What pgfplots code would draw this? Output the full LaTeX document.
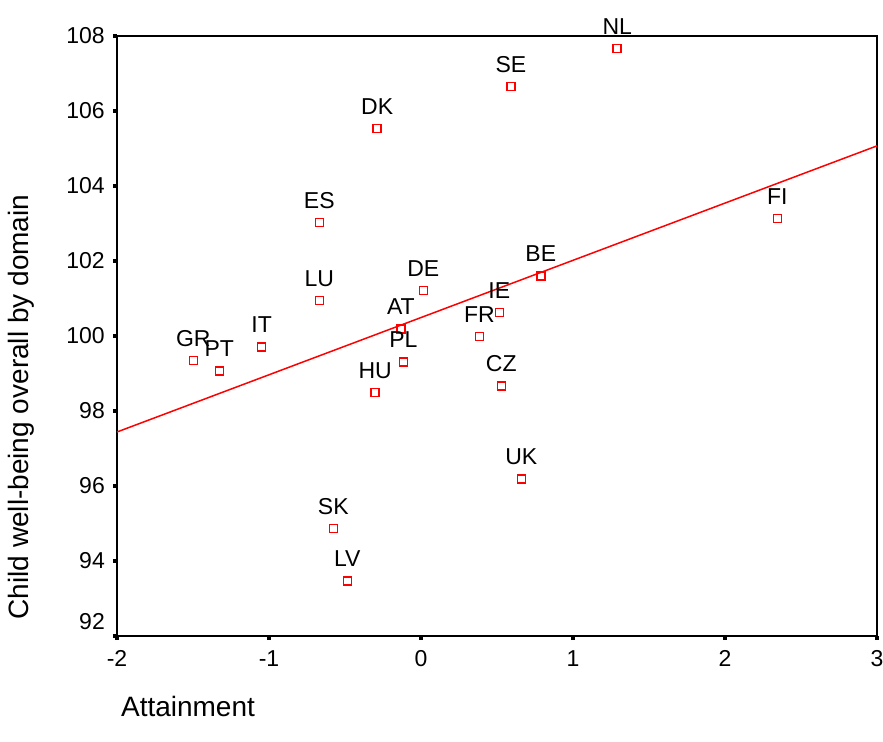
\documentclass[border=0pt]{standalone}
\usepackage{pgfplots}
\pgfplotsset{compat=1.18}
\usepackage{pgfplotstable}
\usepackage{fontspec}
\setmainfont{Liberation Sans}

% country, attainment score, child well-being
\pgfplotstableread{
x y label
1.291 107.66 NL
0.592 106.65 SE
-0.288 105.53 DK
-0.669 103.02 ES
-0.669 100.94 LU
2.344 103.13 FI
0.788 101.60 BE
0.015 101.21 DE
0.515 100.62 IE
-0.132 100.19 AT
0.384 99.98 FR
-1.048 99.71 IT
-1.498 99.34 GR
-1.327 99.07 PT
-0.116 99.30 PL
-0.301 98.49 HU
0.528 98.66 CZ
0.660 96.19 UK
-0.577 94.86 SK
-0.485 93.47 LV
}\wellbeing

\begin{document}
\begin{tikzpicture}
\path[use as bounding box] (-117bp,-106bp) rectangle (766bp,636bp);
\begin{axis}[
    scale only axis,
    width=760bp, height=600bp,
    xmin=-2, xmax=3,
    ymin=92, ymax=108,
    xtick={-2,-1,0,1,2,3},
    ytick={94,96,98,100,102,104,106,108},
    extra y ticks={92},
    extra y tick style={yticklabel style={yshift=14bp}},
    xtick pos=lower, ytick pos=left,
    axis line style={line width=1.5bp, black},
    tick align=outside,
    major tick length=4bp,
    tick style={line width=4bp, black},
    clip=false,
    /pgf/number format/assume math mode=true,
    ticklabel style={font=\fontsize{23bp}{27bp}\selectfont},
    yticklabel style={anchor=east, inner sep=0pt, xshift=-8bp},
    xticklabel style={anchor=north, inner sep=0pt, yshift=-10bp},
    xlabel={Attainment},
    ylabel={Child well-being overall by domain},
    every axis x label/.style={
        at={(axis description cs:0,0)}, xshift=71bp, yshift=-80bp,
        anchor=base, font=\fontsize{28bp}{32bp}\selectfont},
    every axis y label/.style={
        at={(axis description cs:0,0)}, xshift=-96bp, yshift=229bp,
        rotate=90, anchor=center, font=\fontsize{28bp}{32bp}\selectfont},
]

% fit line
\addplot[red, line width=1.5bp] coordinates {(-2,97.44) (3,105.07)};

\addplot[
    only marks,
    mark=square,
    mark size=4bp,
    mark options={red, line width=1.5bp},
    nodes near coords,
    point meta=explicit symbolic,
    nodes near coords style={anchor=base, yshift=14.5bp, inner sep=0pt,
        text=black, font=\fontsize{23bp}{27bp}\selectfont},
] table[x=x, y=y, meta=label] {\wellbeing};

\end{axis}
\end{tikzpicture}
\end{document}
